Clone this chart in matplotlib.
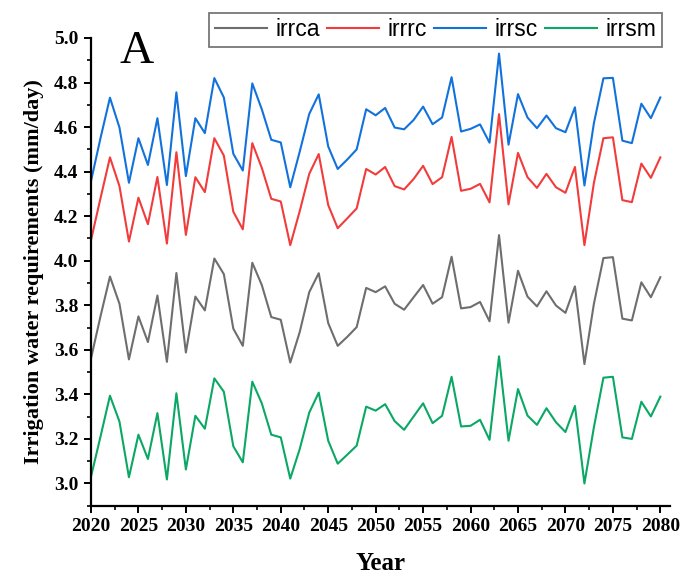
import numpy as np
import matplotlib
matplotlib.use("Agg")
import matplotlib.pyplot as plt
from matplotlib.ticker import MultipleLocator

years = list(range(2020, 2081))

irrca = [3.561, 3.75, 3.929, 3.807, 3.557, 3.75, 3.635, 3.844, 3.546, 3.945,
         3.588, 3.839, 3.777, 4.010, 3.940, 3.695, 3.618, 3.991, 3.891, 3.747,
         3.735, 3.543, 3.680, 3.859, 3.944, 3.720, 3.618, 3.658, 3.702, 3.878,
         3.859, 3.885, 3.807, 3.780, 3.836, 3.891, 3.807, 3.836, 4.018, 3.786,
         3.792, 3.815, 3.728, 4.115, 3.722, 3.955, 3.839, 3.795, 3.863, 3.799,
         3.766, 3.885, 3.536, 3.807, 4.012, 4.016, 3.740, 3.732, 3.903, 3.836,
         3.926]

irrrc = [4.092, 4.28, 4.464, 4.335, 4.086, 4.283, 4.164, 4.376, 4.077, 4.487,
         4.116, 4.375, 4.308, 4.550, 4.472, 4.220, 4.141, 4.528, 4.417, 4.278,
         4.266, 4.070, 4.223, 4.390, 4.479, 4.250, 4.146, 4.190, 4.235, 4.412,
         4.387, 4.421, 4.335, 4.320, 4.367, 4.426, 4.344, 4.375, 4.556, 4.314,
         4.323, 4.345, 4.262, 4.658, 4.253, 4.484, 4.375, 4.327, 4.390, 4.330,
         4.305, 4.421, 4.070, 4.350, 4.550, 4.554, 4.272, 4.263, 4.436, 4.372,
         4.464]

irrsc = [4.357, 4.55, 4.732, 4.598, 4.350, 4.550, 4.430, 4.640, 4.340, 4.756,
         4.380, 4.640, 4.573, 4.820, 4.733, 4.480, 4.405, 4.796, 4.680, 4.543,
         4.531, 4.330, 4.490, 4.659, 4.747, 4.513, 4.412, 4.454, 4.500, 4.680,
         4.653, 4.686, 4.598, 4.590, 4.632, 4.692, 4.613, 4.643, 4.824, 4.580,
         4.592, 4.612, 4.530, 4.930, 4.521, 4.748, 4.643, 4.595, 4.652, 4.595,
         4.577, 4.689, 4.338, 4.618, 4.819, 4.821, 4.539, 4.528, 4.705, 4.640,
         4.733]

irrsm = [3.030, 3.21, 3.394, 3.278, 3.028, 3.219, 3.110, 3.316, 3.018, 3.405,
         3.063, 3.304, 3.246, 3.472, 3.412, 3.167, 3.095, 3.457, 3.360, 3.219,
         3.207, 3.022, 3.155, 3.318, 3.408, 3.192, 3.089, 3.129, 3.170, 3.345,
         3.327, 3.356, 3.280, 3.241, 3.301, 3.360, 3.271, 3.304, 3.479, 3.256,
         3.259, 3.286, 3.196, 3.571, 3.192, 3.424, 3.305, 3.263, 3.338, 3.275,
         3.231, 3.348, 3.000, 3.253, 3.475, 3.479, 3.207, 3.200, 3.367, 3.301,
         3.390]

series_names = ["irrca", "irrrc", "irrsc", "irrsm"]
series_colors = ["#6e6e6e", "#f23c3c", "#1272dc", "#0aa864"]

fig = plt.figure(figsize=(6.81, 5.80), dpi=100)
ax = fig.add_axes([0.1336, 0.128, 0.850, 0.8065])

for vals, name, col in zip([irrca, irrrc, irrsc, irrsm], series_names, series_colors):
    ax.plot(years, vals, color=col, lw=1.5, label=name)

ax.set_xlim(2020, 2081)
ax.set_ylim(2.9, 5.0)
ax.xaxis.set_major_locator(MultipleLocator(5))
ax.xaxis.set_minor_locator(MultipleLocator(2.5))
ax.yaxis.set_major_locator(MultipleLocator(0.2))
ax.yaxis.set_minor_locator(MultipleLocator(0.1))

for s in ["top", "right"]:
    ax.spines[s].set_visible(False)
for s in ["left", "bottom"]:
    ax.spines[s].set_linewidth(1.6)
    ax.spines[s].set_color("black")

ax.tick_params(which="major", direction="out", length=5, width=1.4, pad=4)
ax.tick_params(which="minor", direction="out", length=3, width=1.2)

serif = ["Liberation Serif", "DejaVu Serif"]
tick_size = 14
for lab in ax.get_xticklabels():
    lab.set_fontfamily(serif)
    lab.set_fontweight("bold")
    lab.set_fontsize(tick_size)
ax.set_yticklabels([f"{v:.1f}" for v in ax.get_yticks()], fontfamily=serif,
                   fontweight="bold", fontsize=tick_size)

ax.set_xlabel("Year", fontfamily=serif, fontweight="bold", fontsize=18, labelpad=12)
ax.set_ylabel("Irrigation water requirements (mm/day)", fontfamily=serif,
              fontweight="bold", fontsize=16, labelpad=7)

ax.text(0.05, 1.015, "A", transform=ax.transAxes, fontfamily=serif,
        fontsize=34, va="top", ha="left")

leg = fig.legend(loc="upper right", bbox_to_anchor=(0.972, 0.978), ncol=4,
                 frameon=True, fancybox=False, edgecolor="#555555",
                 prop={"family": ["Liberation Sans", "DejaVu Sans"], "size": 16.5},
                 handlelength=2.3, handletextpad=0.35, columnspacing=0.3,
                 borderpad=0.25, borderaxespad=0.0)
leg.get_frame().set_linewidth(1.3)

fig.savefig("out.png", dpi=100)
